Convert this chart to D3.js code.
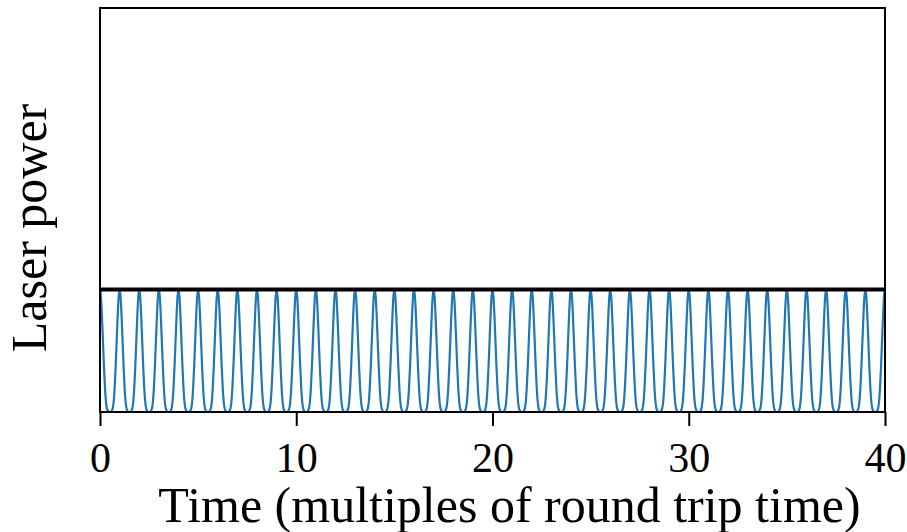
<!DOCTYPE html>
<html>
<head>
<meta charset="utf-8">
<script src="https://cdn.jsdelivr.net/npm/d3@7"></script>
<style>
  body { margin: 0; background: #fff; }
  svg { display: block; font-family: "Liberation Serif", "DejaVu Serif", serif; }
  .axis path, .axis line { stroke: #000; stroke-width: 2; }
  .axis text { font-family: "Liberation Serif", serif; font-size: 42px; fill: #000; }
  .label { font-size: 50px; fill: #000; }
</style>
</head>
<body>
<script>

// pulse centres (multiples of round trip time)
const pulseCenters = [0, 1, 2, 3, 4, 5, 6, 7, 8, 9, 10, 11, 12, 13, 14, 15, 16, 17, 18, 19, 20,
                      21, 22, 23, 24, 25, 26, 27, 28, 29, 30, 31, 32, 33, 34, 35, 36, 37, 38, 39, 40];

// one pulse: offset from centre -> relative power
const profileOffset = [0, 0.05, 0.10, 0.15, 0.20, 0.25, 0.30, 0.35, 0.40, 0.45, 0.50];
const profileValue  = [1, 0.94, 0.78, 0.58, 0.38, 0.21, 0.09, 0.03, 0.01, 0.00, 0.00];

// peak level line
const peakLevel = 1;
const xTicks = [0, 10, 20, 30, 40];
const xDomain = [0, 40];
const yDomain = [0, 3.3];

const W = 907, H = 532;
let margin = {left: 100, right: 22, top: 8, bottom: 120};
let psize = { w: W - margin.left - margin.right, h: H - margin.top - margin.bottom };

let svg = d3.select("body").append("svg")
    .attr("width", W)
    .attr("height", H);

let g = svg.append("g")
    .attr("transform", "translate(" + margin.left + "," + margin.top + ")");

let xscale = d3.scaleLinear().domain(xDomain).range([0, psize.w]);
let yscale = d3.scaleLinear().domain(yDomain).range([psize.h, 0]);

// build the pulse train from the profile
let points = [];
pulseCenters.forEach(function(c, i) {
  for (let k = profileOffset.length - 1; k > 0; k--) {
    let t = c - profileOffset[k];
    if (t >= xDomain[0] && (i == 0 || profileOffset[k] < 0.5))
      points.push([t, profileValue[k]]);
  }
  points.push([c, profileValue[0]]);
  for (let k = 1; k < profileOffset.length; k++) {
    let t = c + profileOffset[k];
    if (t <= xDomain[1]) points.push([t, profileValue[k]]);
  }
});

g.append("clipPath").attr("id", "clip")
  .append("rect")
    .attr("x", 0).attr("y", 0)
    .attr("width", psize.w).attr("height", psize.h);

let line = d3.line()
    .x(d => xscale(d[0]))
    .y(d => yscale(d[1]))
    .curve(d3.curveMonotoneX);

g.append("path")
    .datum(points)
    .attr("clip-path", "url(#clip)")
    .attr("fill", "none")
    .attr("stroke", "#1f77b4")
    .attr("stroke-width", 2.2)
    .attr("d", line);

g.append("line")
    .attr("x1", xscale(xDomain[0]))
    .attr("x2", xscale(xDomain[1]))
    .attr("y1", yscale(peakLevel))
    .attr("y2", yscale(peakLevel))
    .attr("stroke", "#000")
    .attr("stroke-width", 4);

// frame
g.append("rect")
    .attr("x", 0).attr("y", 0)
    .attr("width", psize.w).attr("height", psize.h)
    .attr("fill", "none")
    .attr("stroke", "#000")
    .attr("stroke-width", 2);

let xAxis = d3.axisBottom(xscale).tickValues(xTicks).tickSize(14).tickPadding(16)
    .tickFormat(d3.format("d"));

g.append("g")
    .attr("class", "x axis")
    .attr("transform", "translate(0," + psize.h + ")")
    .call(xAxis)
    .call(s => s.select(".domain").remove())
    .attr("font-family", null)
    .attr("font-size", null);

svg.append("text")
    .attr("class", "label")
    .attr("x", margin.left + psize.w / 2 + 17)
    .attr("y", 522)
    .attr("text-anchor", "middle")
    .text("Time (multiples of round trip time)");

svg.append("text")
    .attr("class", "label")
    .attr("transform", "translate(46,228) rotate(-90)")
    .attr("text-anchor", "middle")
    .text("Laser power");

</script>
</body>
</html>
